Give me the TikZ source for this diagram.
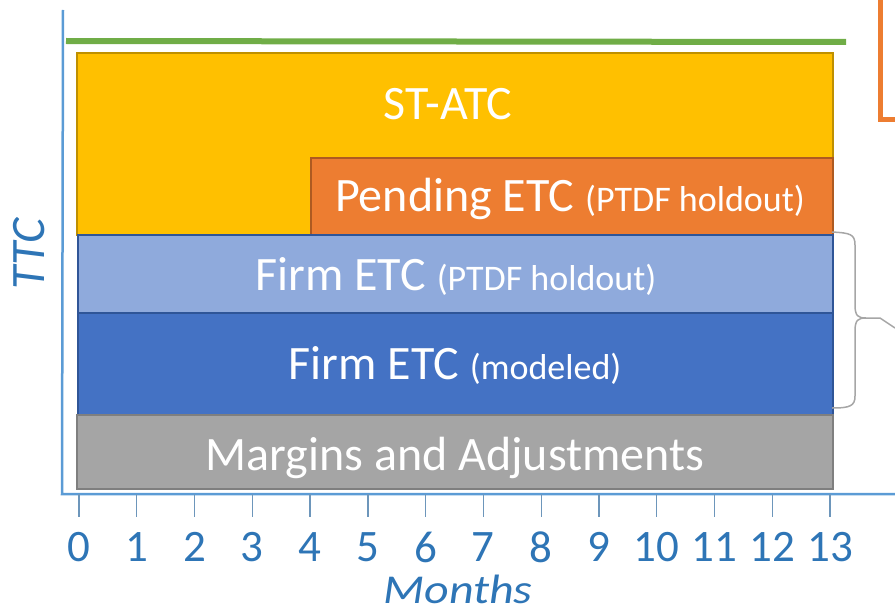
\documentclass[tikz,border=0pt]{standalone}
\usepackage{fontspec}
\setmainfont{Carlito}
\definecolor{stYellow}{HTML}{FFC000}
\definecolor{stYellowDk}{HTML}{BF9000}
\definecolor{pendOrange}{HTML}{ED7D31}
\definecolor{pendOrangeDk}{HTML}{AE5A21}
\definecolor{firmLight}{HTML}{8FAADC}
\definecolor{firmDark}{HTML}{4472C4}
\definecolor{firmEdge}{HTML}{2F5597}
\definecolor{margGrey}{HTML}{A5A5A5}
\definecolor{margGreyDk}{HTML}{7F7F7F}
\definecolor{capGreen}{HTML}{70AD47}
\definecolor{axisBlue}{HTML}{5B9BD5}
\definecolor{labelBlue}{HTML}{2E75B6}
\definecolor{braceGrey}{HTML}{A6A6A6}
\tikzset{
  band/.style={line width=2pt},
  bandtext/.style={text=white, font=\fontsize{48}{50}\selectfont, inner sep=0pt, anchor=base},
  axislabel/.style={text=labelBlue, font=\fontsize{45}{48}\selectfont, inner sep=0pt},
}
\newcommand{\smalltxt}[1]{{\fontsize{36}{38}\selectfont #1}}
\begin{document}
\begin{tikzpicture}[x=1pt, y=-1pt]
\useasboundingbox (0,0) rectangle (895,610);

% axes
\draw[axisBlue, line width=2.5pt] (63,10) -- (62,494) -- (895,494);
\foreach \m in {0,...,13} {
  \draw[axisBlue!80!black!80, line width=1.3pt] ({79+57.77*\m},494) -- ({79+57.77*\m},517);
  \node[axislabel] (tick\m) at ({79+57.77*\m},547) {\m};
}
\node[axislabel, font=\fontsize{41}{43}\selectfont\itshape, anchor=base, xscale=1.17] (xlab) at (458,603) {Months};
\node[axislabel, font=\fontsize{48}{50}\selectfont\itshape, rotate=90, anchor=base] (ylab) at (45,254) {TTC};

% cap line
\draw[capGreen, line width=6pt] (66,41) -- (846,42);

% stacked bands
\draw[band, fill=stYellow, draw=stYellowDk] (77,53) rectangle (833,235);
\node[bandtext] (statc) at (448,119) {ST-ATC};
\draw[band, fill=pendOrange, draw=pendOrangeDk] (311,158) rectangle (833,235);
\node[bandtext] (pend) at (570,211) {Pending ETC \smalltxt{(PTDF holdout)}};
\draw[band, fill=firmLight, draw=firmEdge] (78,235) rectangle (833,313);
\node[bandtext] (firmh) at (456,290) {Firm ETC \smalltxt{(PTDF holdout)}};
\draw[band, fill=firmDark, draw=firmEdge] (78,313) rectangle (833,415);
\node[bandtext] (firmm) at (455,379) {Firm ETC \smalltxt{(modeled)}};
\draw[band, fill=margGrey, draw=margGreyDk] (77,415) rectangle (833,489);
\node[bandtext] (marg) at (455,470) {Margins and Adjustments};

% brace beside the firm bands, with its leader
\draw[braceGrey, line width=1.5pt]
  (832,232) .. controls (850,233) and (855,234) .. (855,245)
  -- (855,305) .. controls (855,316) and (858,318) .. (866,318)
  -- (880,318) -- (895,328);
\draw[braceGrey, line width=1.5pt]
  (866,318) .. controls (858,318) and (855,320) .. (855,331)
  -- (855,396) .. controls (855,406) and (850,408) .. (832,408);

% callout frame at the corner
\draw[pendOrange, line width=5pt] (880,-5) -- (880,119) -- (900,119);
\end{tikzpicture}
\end{document}
